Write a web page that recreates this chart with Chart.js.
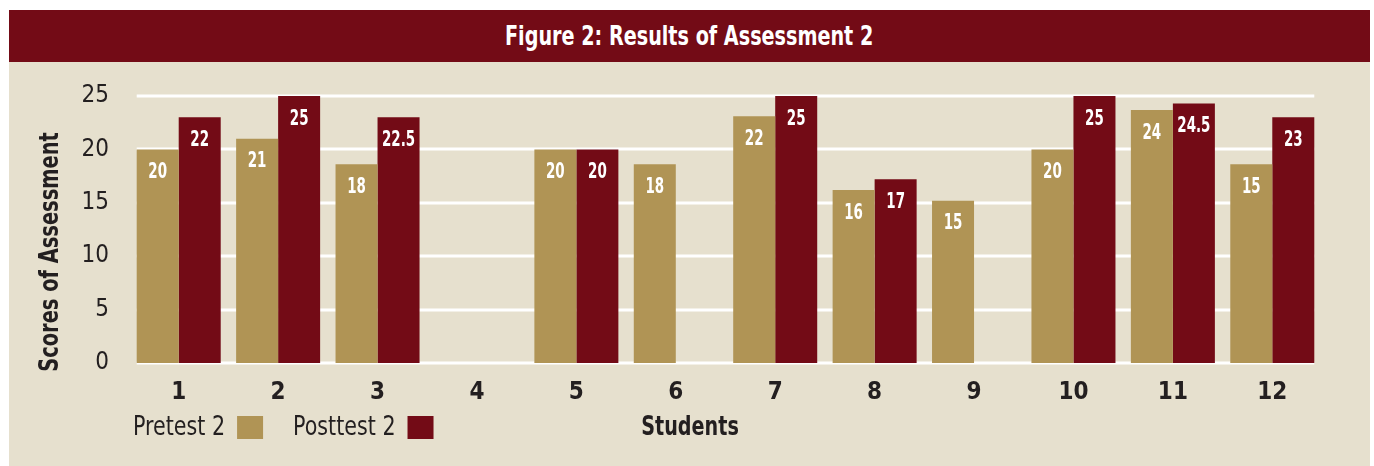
<!DOCTYPE html>
<html>
<head>
<meta charset="utf-8">
<script src="https://cdn.jsdelivr.net/npm/chart.js@4/dist/chart.umd.min.js"></script>
<style>
body{margin:0;background:#fff;width:1374px;height:466px;overflow:hidden;position:relative}
#banner{position:absolute;left:9px;top:10px;width:1361px;height:52px;background:#730B16;color:#fff;
  font-family:"Liberation Sans Narrow","DejaVu Sans Condensed",sans-serif;font-weight:bold;font-size:27px;line-height:52px;text-align:center}
#banner span{display:inline-block;transform:scaleX(0.79)}
#panel{position:absolute;left:9px;top:62px;width:1361px;height:404px;background:#E6E0CE}
</style>
</head>
<body>
<div id="banner"><span>Figure 2: Results of Assessment 2</span></div>
<div id="panel"><canvas id="chart" width="1361" height="404"></canvas></div>
<script>
const students = ['1','2','3','4','5','6','7','8','9','10','11','12'];
// bar heights as drawn
const pretest = [20, 21, 18.6, null, 20, 18.6, 23.1, 16.2, 15.2, 20, 23.7, 18.6];
const posttest = [23, 25, 23, null, 20, null, 25, 17.2, null, 25, 24.3, 23];
// value labels printed on the bars
const pretestLabels = ['20','21','18','','20','18','22','16','15','20','24','15'];
const posttestLabels = ['22','25','22.5','','20','','25','17','','25','24.5','23'];
const yTicks = [0, 5, 10, 15, 20, 25];

const GOLD = '#B09455';
const RED = '#730B16';
const INK = '#231F20';
const NARROW = '"Liberation Sans Narrow","DejaVu Sans Condensed",sans-serif';

// draw text squeezed horizontally
function squeezed(ctx, txt, x, y, sx) {
  ctx.save();
  ctx.translate(x, y);
  ctx.scale(sx, 1);
  ctx.fillText(txt, 0, 0);
  ctx.restore();
  return ctx.measureText(txt).width * sx;
}

const deco = {
  id: 'deco',
  beforeDatasetsDraw(chart) {
    // white gridlines from first bar to last bar
    const ctx = chart.ctx, y = chart.scales.y;
    const first = chart.getDatasetMeta(0).data[0];
    const last = chart.getDatasetMeta(1).data[students.length - 1];
    const x0 = first.x - first.width / 2, x1 = last.x + last.width / 2;
    ctx.save();
    ctx.strokeStyle = '#fff';
    ctx.lineWidth = 3;
    yTicks.forEach(v => {
      const py = Math.round(y.getPixelForValue(v));
      ctx.beginPath(); ctx.moveTo(x0, py); ctx.lineTo(x1, py); ctx.stroke();
    });
    ctx.restore();
  },
  afterDatasetsDraw(chart) {
    const ctx = chart.ctx;
    const all = [pretestLabels, posttestLabels];
    ctx.save();
    ctx.fillStyle = '#fff';
    ctx.font = 'bold 22px ' + NARROW;
    ctx.textAlign = 'center';
    ctx.textBaseline = 'middle';
    chart.data.datasets.forEach((ds, di) => {
      chart.getDatasetMeta(di).data.forEach((bar, i) => {
        const txt = all[di][i];
        if (!txt || ds.data[i] == null) return;
        squeezed(ctx, txt, bar.x, bar.y + 23, 0.68);
      });
    });
    ctx.restore();
  },
  afterDraw(chart) {
    const ctx = chart.ctx;
    ctx.save();
    ctx.fillStyle = INK;
    ctx.textBaseline = 'middle';
    // y axis title
    ctx.save();
    ctx.translate(42, 190);
    ctx.rotate(-Math.PI / 2);
    ctx.font = 'bold 27px ' + NARROW;
    ctx.textAlign = 'center';
    squeezed(ctx, 'Scores of Assessment', 0, 0, 0.8);
    ctx.restore();
    // x axis title
    ctx.font = 'bold 26px ' + NARROW;
    ctx.textAlign = 'center';
    squeezed(ctx, 'Students', 681, 366, 0.82);
    // legend: text then swatch
    ctx.font = '27px ' + NARROW;
    ctx.textAlign = 'left';
    let x = 124;
    chart.data.datasets.forEach(ds => {
      ctx.fillStyle = INK;
      x += squeezed(ctx, ds.label, x, 366, 0.85) + 12;
      ctx.fillStyle = ds.backgroundColor;
      ctx.fillRect(x, 354, 26, 23);
      x += 26 + 30;
    });
    ctx.restore();
  }
};

new Chart(document.getElementById('chart'), {
  type: 'bar',
  data: {
    labels: students,
    datasets: [
      { label: 'Pretest 2', data: pretest, backgroundColor: GOLD },
      { label: 'Posttest 2', data: posttest, backgroundColor: RED }
    ]
  },
  options: {
    responsive: false,
    animation: false,
    events: [],
    datasets: { bar: { categoryPercentage: 0.845, barPercentage: 1 } },
    layout: { padding: { left: 0, right: 48, top: 34, bottom: 0 } },
    plugins: { legend: { display: false }, tooltip: { enabled: false } },
    scales: {
      x: {
        grid: { display: false },
        border: { display: false },
        ticks: { color: INK, padding: 7, font: { family: NARROW, size: 24, weight: 'bold' } },
        afterFit(s) { s.height = 103; }
      },
      y: {
        min: 0, max: 25,
        afterBuildTicks(s) { s.ticks = yTicks.map(v => ({ value: v })); },
        grid: { display: false },
        border: { display: false },
        ticks: { color: INK, padding: 12, font: { family: NARROW, size: 24 } },
        afterFit(s) { s.width = 120; }
      }
    }
  },
  plugins: [deco]
});
</script>
</body>
</html>
